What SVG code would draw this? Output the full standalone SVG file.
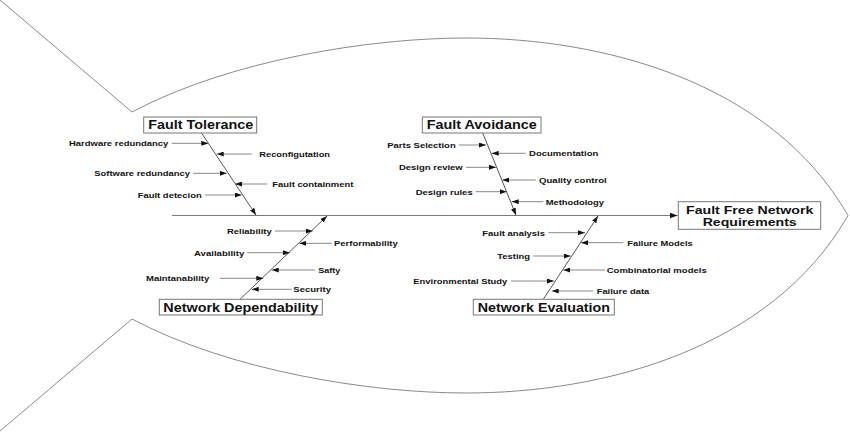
<svg xmlns="http://www.w3.org/2000/svg" width="850" height="433" viewBox="0 0 850 433">
<defs>
<marker id="ah" viewBox="0 0 7 5" refX="7" refY="2.5" markerWidth="7" markerHeight="5" markerUnits="userSpaceOnUse" orient="auto"><path d="M0,0 L7,2.5 L0,5 z" fill="#111"/></marker>
<marker id="ahb" viewBox="0 0 8 6" refX="8" refY="3" markerWidth="8" markerHeight="6" markerUnits="userSpaceOnUse" orient="auto"><path d="M0,0 L8,3 L0,6 z" fill="#111"/></marker>
<style>
.fish{fill:none;stroke:#8a8a8a;stroke-width:1}
.spine{stroke:#7a7a7a;stroke-width:1.2;fill:none}
.bone{stroke:#555;stroke-width:1;fill:none}
.br{stroke:#888;stroke-width:1;fill:none}
.box{fill:#fff;stroke:#777;stroke-width:1}
.hdr{font-family:"Liberation Sans",Arial,sans-serif;font-weight:bold;font-size:12px;fill:#111}
.hdr2{font-family:"Liberation Sans",Arial,sans-serif;font-weight:bold;font-size:11px;fill:#111}
.lbl{font-family:"Liberation Sans",Arial,sans-serif;font-weight:bold;font-size:8px;fill:#111}
</style>
</defs>
<rect width="850" height="433" fill="#fff"/>
<g id="fish">
<path class="fish" d="M0,0 L132,112 C230,60 370,38 466,38 C600,38 770,80 848,215.5"/>
<path class="fish" d="M0,431 L132,319 C230,371 370,393 466,393 C600,393 770,351 848,215.5"/>
</g>
<g id="connectors">
<line class="spine" x1="172" y1="215.5" x2="677.5" y2="215.5" marker-end="url(#ahb)"/>
<line class="bone" x1="201.5" y1="133" x2="256" y2="215" marker-end="url(#ah)"/>
<line class="bone" x1="482.7" y1="133" x2="516" y2="215" marker-end="url(#ah)"/>
<line class="bone" x1="240" y1="299.3" x2="327" y2="216" marker-end="url(#ah)"/>
<line class="bone" x1="543.3" y1="299.3" x2="598" y2="216" marker-end="url(#ah)"/>
<line class="br" x1="171.7" y1="143.3" x2="208.3" y2="143.3" marker-end="url(#ah)"/>
<line class="br" x1="251.7" y1="154" x2="216.7" y2="154" marker-end="url(#ah)"/>
<line class="br" x1="193.3" y1="173.3" x2="226.7" y2="173.3" marker-end="url(#ah)"/>
<line class="br" x1="267.3" y1="184" x2="235" y2="184" marker-end="url(#ah)"/>
<line class="br" x1="205" y1="195" x2="241.7" y2="195" marker-end="url(#ah)"/>
<line class="br" x1="459" y1="145" x2="486" y2="145" marker-end="url(#ah)"/>
<line class="br" x1="525.7" y1="153.3" x2="491.7" y2="153.3" marker-end="url(#ah)"/>
<line class="br" x1="466" y1="167.3" x2="496" y2="167.3" marker-end="url(#ah)"/>
<line class="br" x1="535.7" y1="180" x2="502.3" y2="180" marker-end="url(#ah)"/>
<line class="br" x1="475.7" y1="191.7" x2="506.7" y2="191.7" marker-end="url(#ah)"/>
<line class="br" x1="543.3" y1="201.7" x2="511.7" y2="201.7" marker-end="url(#ah)"/>
<line class="br" x1="275" y1="231" x2="312.7" y2="231" marker-end="url(#ah)"/>
<line class="br" x1="331.7" y1="243.3" x2="299.3" y2="243.3" marker-end="url(#ah)"/>
<line class="br" x1="247.3" y1="252.7" x2="290" y2="252.7" marker-end="url(#ah)"/>
<line class="br" x1="315" y1="270" x2="271.7" y2="270" marker-end="url(#ah)"/>
<line class="br" x1="220" y1="278.3" x2="263.3" y2="278.3" marker-end="url(#ah)"/>
<line class="br" x1="291.7" y1="289.3" x2="251.7" y2="289.3" marker-end="url(#ah)"/>
<line class="br" x1="548.3" y1="232.7" x2="585" y2="232.7" marker-end="url(#ah)"/>
<line class="br" x1="623.3" y1="242.7" x2="581" y2="242.7" marker-end="url(#ah)"/>
<line class="br" x1="533.3" y1="256" x2="570.7" y2="256" marker-end="url(#ah)"/>
<line class="br" x1="605" y1="270" x2="563.3" y2="270" marker-end="url(#ah)"/>
<line class="br" x1="511" y1="281" x2="554" y2="281" marker-end="url(#ah)"/>
<line class="br" x1="593.3" y1="291" x2="551.7" y2="291" marker-end="url(#ah)"/>
</g>
<g id="fault-tolerance">
<rect class="box" x="143.7" y="117" width="113" height="16"/>
<text class="hdr" x="148.3" y="129.3" textLength="105" lengthAdjust="spacingAndGlyphs">Fault Tolerance</text>
</g>
<g id="fault-avoidance">
<rect class="box" x="422.3" y="117" width="118.7" height="16"/>
<text class="hdr" x="426.7" y="129.3" textLength="110" lengthAdjust="spacingAndGlyphs">Fault Avoidance</text>
</g>
<g id="network-dependability">
<rect class="box" x="159.3" y="299.3" width="163" height="15.7"/>
<text class="hdr" x="163.3" y="311.5" textLength="155" lengthAdjust="spacingAndGlyphs">Network Dependability</text>
</g>
<g id="network-evaluation">
<rect class="box" x="473.3" y="299.3" width="141" height="15.7"/>
<text class="hdr" x="477.7" y="311.5" textLength="132.3" lengthAdjust="spacingAndGlyphs">Network Evaluation</text>
</g>
<g id="fault-free-network-requirements">
<rect class="box" x="678.3" y="201.7" width="142.4" height="27.6"/>
<text class="hdr2" x="686" y="213.6" textLength="127.3" lengthAdjust="spacingAndGlyphs">Fault Free Network</text>
<text class="hdr2" x="702.7" y="226" textLength="94" lengthAdjust="spacingAndGlyphs">Requirements</text>
</g>
<g id="causes">
<g id="hardware-redundancy"><text class="lbl" x="69" y="146.2" textLength="99.3" lengthAdjust="spacingAndGlyphs">Hardware redundancy</text></g>
<g id="reconfigutation"><text class="lbl" x="259.3" y="156.9" textLength="70.7" lengthAdjust="spacingAndGlyphs">Reconfigutation</text></g>
<g id="software-redundancy"><text class="lbl" x="94.3" y="176.2" textLength="95.7" lengthAdjust="spacingAndGlyphs">Software redundancy</text></g>
<g id="fault-containment"><text class="lbl" x="272.3" y="186.9" textLength="81" lengthAdjust="spacingAndGlyphs">Fault containment</text></g>
<g id="fault-detecion"><text class="lbl" x="137.7" y="197.9" textLength="64" lengthAdjust="spacingAndGlyphs">Fault detecion</text></g>
<g id="parts-selection"><text class="lbl" x="387.3" y="147.9" textLength="68.4" lengthAdjust="spacingAndGlyphs">Parts Selection</text></g>
<g id="documentation"><text class="lbl" x="529" y="156.2" textLength="69.3" lengthAdjust="spacingAndGlyphs">Documentation</text></g>
<g id="design-review"><text class="lbl" x="399" y="170.2" textLength="63.7" lengthAdjust="spacingAndGlyphs">Design review</text></g>
<g id="quality-control"><text class="lbl" x="539" y="182.9" textLength="67.7" lengthAdjust="spacingAndGlyphs">Quality control</text></g>
<g id="design-rules"><text class="lbl" x="415.7" y="194.6" textLength="57" lengthAdjust="spacingAndGlyphs">Design rules</text></g>
<g id="methodology"><text class="lbl" x="545.7" y="204.6" textLength="58.3" lengthAdjust="spacingAndGlyphs">Methodology</text></g>
<g id="reliability"><text class="lbl" x="227" y="233.9" textLength="44.7" lengthAdjust="spacingAndGlyphs">Reliability</text></g>
<g id="performability"><text class="lbl" x="334" y="246.2" textLength="63.7" lengthAdjust="spacingAndGlyphs">Performability</text></g>
<g id="availability"><text class="lbl" x="194" y="255.6" textLength="50.3" lengthAdjust="spacingAndGlyphs">Availability</text></g>
<g id="safty"><text class="lbl" x="318.3" y="272.9" textLength="22" lengthAdjust="spacingAndGlyphs">Safty</text></g>
<g id="maintanability"><text class="lbl" x="146" y="281.2" textLength="63.3" lengthAdjust="spacingAndGlyphs">Maintanability</text></g>
<g id="security"><text class="lbl" x="293.3" y="292.2" textLength="37.7" lengthAdjust="spacingAndGlyphs">Security</text></g>
<g id="fault-analysis"><text class="lbl" x="482.3" y="235.6" textLength="62.7" lengthAdjust="spacingAndGlyphs">Fault analysis</text></g>
<g id="failure-models"><text class="lbl" x="627.3" y="245.6" textLength="65.4" lengthAdjust="spacingAndGlyphs">Failure Models</text></g>
<g id="testing"><text class="lbl" x="497.3" y="258.9" textLength="32.7" lengthAdjust="spacingAndGlyphs">Testing</text></g>
<g id="combinatorial-models"><text class="lbl" x="606.7" y="272.9" textLength="100" lengthAdjust="spacingAndGlyphs">Combinatorial models</text></g>
<g id="environmental-study"><text class="lbl" x="413.3" y="283.9" textLength="94" lengthAdjust="spacingAndGlyphs">Environmental Study</text></g>
<g id="failure-data"><text class="lbl" x="596.7" y="293.9" textLength="52.6" lengthAdjust="spacingAndGlyphs">Failure data</text></g>
</g>
</svg>
